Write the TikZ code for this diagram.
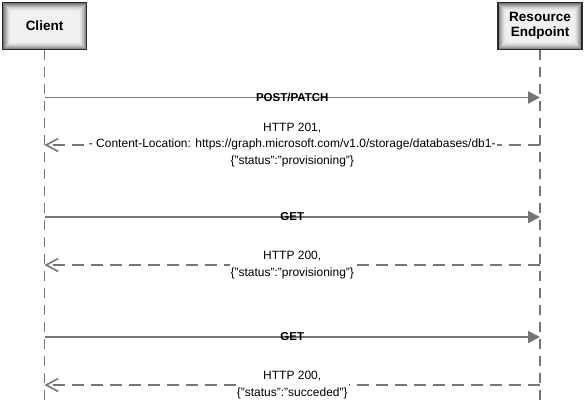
\documentclass[tikz,border=0pt]{standalone}
\usepackage{fontspec}
\setmainfont{Liberation Sans}
\usetikzlibrary{arrows.meta}
\definecolor{wire}{HTML}{757575}
\definecolor{frame}{HTML}{2A2A2A}
\tikzset{
  actor/.style={draw=frame, line width=1.8pt, minimum width=84pt, minimum height=47pt,
    align=center, inner sep=0pt,
    path picture={
      \foreach \i/\c in {0/55,1/45,2/36,3/28,4/21,5/15,6/10,7/7,8/6} {
        \fill[black!\c] ([shift={(\i pt,-\i pt)}]path picture bounding box.north west)
          rectangle ([shift={(-\i pt,\i pt)}]path picture bounding box.south east);
      }
      \node[font=\bfseries\fontsize{13.5}{15.5}\selectfont, align=center]
        at (path picture bounding box.center) {\actortext};
    }},
  lifeline/.style={draw=wire, line width=1.9pt, dash pattern=on 10pt off 7pt},
  call/.style={draw=wire, line width=1.9pt, -{Triangle[length=12pt,width=12pt]}},
  reply/.style={draw=wire, line width=1.9pt, dash pattern=on 12pt off 7pt,
    -{Straight Barb[length=12pt,width=13pt,line width=1.6pt]}},
  calllabel/.style={font=\bfseries\fontsize{11.5}{13}\selectfont, inner sep=0pt, text=black},
  replylabel/.style={font=\fontsize{12}{16.5}\selectfont, fill=white, inner xsep=1pt,
    inner ysep=0pt, align=center, text=black}
}
\begin{document}
\begin{tikzpicture}[x=1pt, y=-1pt]
  \useasboundingbox (0,0) rectangle (585,407);

  % participants
  \def\actortext{Client}
  \node[actor] (client) at (44.5,26) {};
  \def\actortext{Resource\\Endpoint}
  \node[actor] (server) at (540,26) {};

  % lifelines
  \coordinate (clientEnd) at (client.south |- 0,407);
  \coordinate (serverEnd) at (server.south |- 0,407);
  \draw[lifeline] (client.south) -- (clientEnd);
  \draw[lifeline] (server.south) -- (serverEnd);

  % message anchors on the lifelines
  \foreach \n/\y in {1/97.5,2/145,3/217,4/265,5/337,6/385} {
    \coordinate (c\n) at (client.south |- 0,\y);
    \coordinate (s\n) at (server.south |- 0,\y);
  }

  % POST/PATCH
  \draw[call] (c1) -- node[calllabel] (m1) {POST/PATCH} (s1);
  \draw[reply] (s2) -- node[replylabel] (m2)
    {HTTP 201,\\- Content-Location: https://graph.microsoft.com/v1.0/storage/databases/db1-\\\{"status":"provisioning"\}} (c2);

  % first poll
  \draw[call] (c3) -- node[calllabel] (m3) {GET} (s3);
  \draw[reply] (s4) -- node[replylabel] (m4)
    {HTTP 200,\\\{"status":"provisioning"\}} (c4);

  % second poll
  \draw[call] (c5) -- node[calllabel] (m5) {GET} (s5);
  \draw[reply] (s6) -- node[replylabel] (m6)
    {HTTP 200,\\\{"status":"succeded"\}} (c6);
\end{tikzpicture}
\end{document}
